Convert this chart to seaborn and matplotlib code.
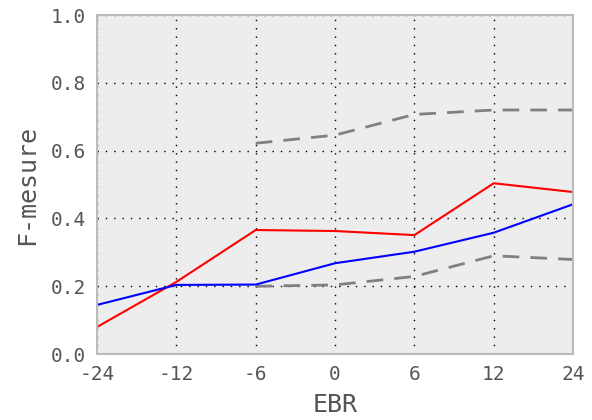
import numpy as np
import pandas as pd
import matplotlib
matplotlib.use("Agg")
import matplotlib.pyplot as plt
import seaborn as sns

# === Data ===
ebr_labels = ["-24", "-12", "-6", "0", "6", "12", "24"]
red_vals = [0.080, 0.213, 0.366, 0.363, 0.351, 0.504, 0.478]
blue_vals = [0.145, 0.204, 0.205, 0.268, 0.302, 0.358, 0.442]
# grey dashed bounds start at -6
upper_labels = ["-6", "0", "6", "12", "24"]
upper_vals = [0.622, 0.646, 0.707, 0.720, 0.720]
lower_vals = [0.200, 0.204, 0.229, 0.290, 0.279]

sns.set_theme(style="whitegrid")
plt.rcParams["font.family"] = ["DejaVu Sans Mono", "DejaVu Sans"]

pos = {lab: i for i, lab in enumerate(ebr_labels)}
df = pd.DataFrame({"x": [pos[l] for l in ebr_labels], "red": red_vals, "blue": blue_vals})
dfb = pd.DataFrame({"x": [pos[l] for l in upper_labels], "upper": upper_vals, "lower": lower_vals})

fig, ax = plt.subplots(figsize=(5.92, 4.2), dpi=100)
ax.set_facecolor("#ededed")

sns.lineplot(data=dfb, x="x", y="upper", ax=ax, color="#808080", linewidth=2)
sns.lineplot(data=dfb, x="x", y="lower", ax=ax, color="#808080", linewidth=2)
for l in ax.lines:
    l.set_linestyle((0, (6, 4)))
sns.lineplot(data=df, x="x", y="red", ax=ax, color="red", linewidth=1.5)
sns.lineplot(data=df, x="x", y="blue", ax=ax, color="blue", linewidth=1.5)

ax.set_xlim(0, len(ebr_labels) - 1)
ax.set_ylim(0, 1.0)
ax.set_xticks(range(len(ebr_labels)))
ax.set_xticklabels(ebr_labels)
ax.set_yticks(np.arange(0, 1.01, 0.2))
ax.set_yticklabels([f"{v:.1f}" for v in np.arange(0, 1.01, 0.2)])

ax.grid(True, color="black", linestyle=(0, (1, 5)), linewidth=1)
ax.tick_params(length=0, labelsize=14, labelcolor="#555555", pad=8)
for s in ax.spines.values():
    s.set_color("#bbbbbb")
    s.set_linewidth(1.5)

ax.set_xlabel("EBR", fontsize=18, color="#555555", labelpad=6)
ax.set_ylabel("F-mesure", fontsize=18, color="#555555", labelpad=8)

fig.subplots_adjust(left=0.164, right=0.968, top=0.964, bottom=0.157)
fig.savefig("out.png", dpi=100)
